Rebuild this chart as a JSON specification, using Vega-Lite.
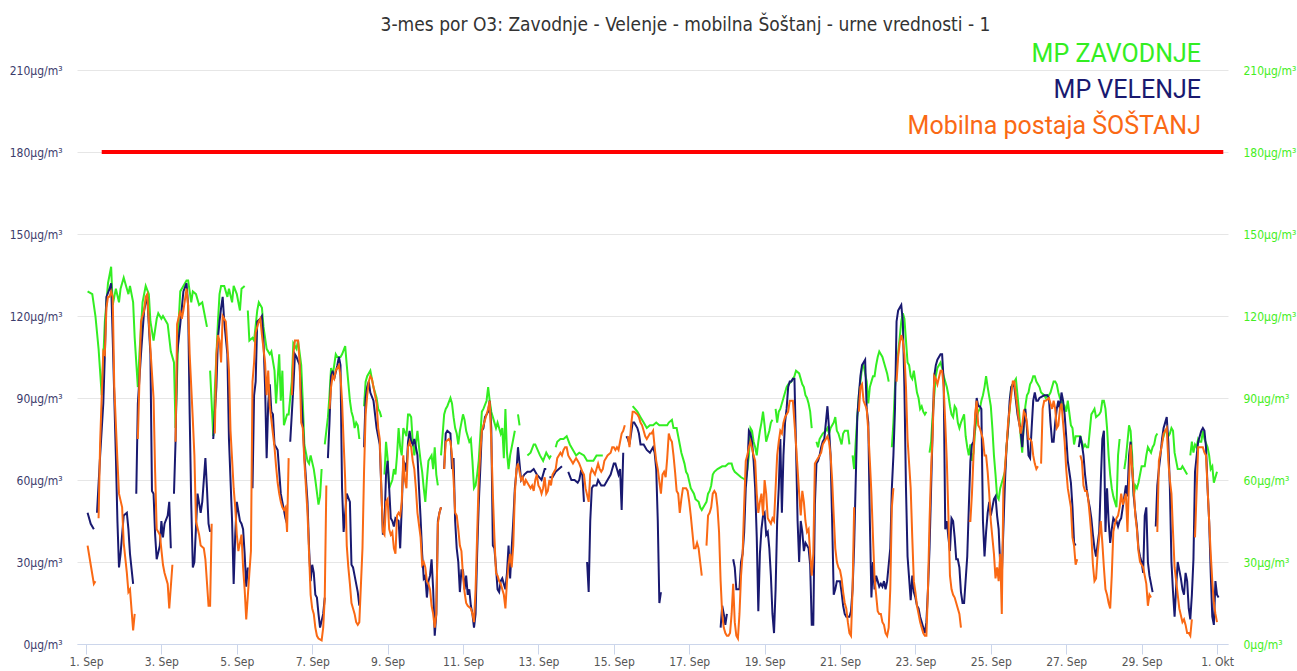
{
"$schema":"https://vega.github.io/schema/vega-lite/v6.json",
"width":1151,"height":574,
"autosize":{"type":"none"},
"padding":{"left":77,"top":70,"right":69,"bottom":27},
"background":"white",
"config":{"view":{"stroke":null}},
"title":{"text":"3-mes por O3: Zavodnje - Velenje - mobilna Šoštanj - urne vrednosti - 1","fontSize":19,"font":"DejaVu Sans Condensed","fontWeight":"normal","color":"#333333","anchor":"middle","frame":"group","dx":33,"offset":-9,"baseline":"alphabetic"},
"encoding":{
"x":{"field":"t","type":"temporal","scale":{"type":"utc","domain":[{"year":1900,"month":8,"date":31,"hours":18,"minutes":16,"utc":true},{"year":1900,"month":10,"date":1,"hours":7,"utc":true}]},"axis":{"values":[{"year":1900,"month":9,"date":1,"utc":true},{"year":1900,"month":9,"date":3,"utc":true},{"year":1900,"month":9,"date":5,"utc":true},{"year":1900,"month":9,"date":7,"utc":true},{"year":1900,"month":9,"date":9,"utc":true},{"year":1900,"month":9,"date":11,"utc":true},{"year":1900,"month":9,"date":13,"utc":true},{"year":1900,"month":9,"date":15,"utc":true},{"year":1900,"month":9,"date":17,"utc":true},{"year":1900,"month":9,"date":19,"utc":true},{"year":1900,"month":9,"date":21,"utc":true},{"year":1900,"month":9,"date":23,"utc":true},{"year":1900,"month":9,"date":25,"utc":true},{"year":1900,"month":9,"date":27,"utc":true},{"year":1900,"month":9,"date":29,"utc":true},{"year":1900,"month":10,"date":1,"utc":true}],"labelExpr":"replace(utcFormat(datum.value,'%-d. %b'),'Oct','Okt')","domainColor":"#ccd6eb","tickColor":"#ccd6eb","tickSize":10,"labelColor":"#555555","labelFontSize":12,"labelFont":"DejaVu Sans Condensed","labelPadding":2,"grid":false,"title":null,"labelOverlap":false,"labelFlush":false}},
"y":{"field":"v","type":"quantitative","scale":{"domain":[0,210]},"axis":null}
},
"layer":[
{"data":{"format":{"parse":{"t":"utc:'%m-%d %H'"}},"values":[
{"t":"09-01 01","v":129},{"t":"09-01 04","v":128},{"t":"09-01 06","v":120},{"t":"09-01 08","v":108},{"t":"09-01 10","v":91},{"t":"09-01 12","v":118},{"t":"09-01 14","v":132},{"t":"09-01 15","v":135},{"t":"09-01 16","v":138},{"t":"09-01 17","v":124},{"t":"09-01 19","v":130},{"t":"09-01 21","v":125},{"t":"09-01 22","v":130},
{"t":"09-02 00","v":134},{"t":"09-02 02","v":130},{"t":"09-02 03","v":128},{"t":"09-02 04","v":131},{"t":"09-02 06","v":125},{"t":"09-02 07","v":112},{"t":"09-02 09","v":94},{"t":"09-02 10","v":106},{"t":"09-02 12","v":125},{"t":"09-02 14","v":131},{"t":"09-02 16","v":128},{"t":"09-02 17","v":118},{"t":"09-02 19","v":111},{"t":"09-02 21","v":119},{"t":"09-02 22","v":121},
{"t":"09-03 00","v":119},{"t":"09-03 01","v":120},{"t":"09-03 03","v":118},{"t":"09-03 04","v":117},{"t":"09-03 06","v":107},{"t":"09-03 08","v":103},{"t":"09-03 09","v":79},{"t":"09-03 11","v":118},{"t":"09-03 12","v":129},{"t":"09-03 14","v":131},{"t":"09-03 16","v":133},{"t":"09-03 17","v":133},{"t":"09-03 19","v":125},{"t":"09-03 20","v":129},{"t":"09-03 22","v":128},
{"t":"09-04 00","v":124},{"t":"09-04 02","v":125},{"t":"09-04 03","v":122},{"t":"09-04 05","v":116},{"t":"09-04 06","v":null},{"t":"09-04 07","v":100},{"t":"09-04 09","v":76},{"t":"09-04 10","v":93},{"t":"09-04 12","v":118},{"t":"09-04 13","v":128},{"t":"09-04 14","v":131},{"t":"09-04 16","v":131},{"t":"09-04 18","v":127},{"t":"09-04 19","v":130},{"t":"09-04 21","v":125},{"t":"09-04 22","v":131},
{"t":"09-05 00","v":128},{"t":"09-05 02","v":122},{"t":"09-05 03","v":130},{"t":"09-05 05","v":131},{"t":"09-05 06","v":null},{"t":"09-05 07","v":122},{"t":"09-05 08","v":111},{"t":"09-05 10","v":112},{"t":"09-05 11","v":111},{"t":"09-05 13","v":122},{"t":"09-05 14","v":125},{"t":"09-05 16","v":123},{"t":"09-05 17","v":116},{"t":"09-05 19","v":108},{"t":"09-05 21","v":106},{"t":"09-05 22","v":107},
{"t":"09-06 00","v":100},{"t":"09-06 01","v":88},{"t":"09-06 03","v":106},{"t":"09-06 04","v":89},{"t":"09-06 05","v":100},{"t":"09-06 06","v":80},{"t":"09-06 08","v":84},{"t":"09-06 09","v":84},{"t":"09-06 11","v":96},{"t":"09-06 12","v":110},{"t":"09-06 14","v":108},{"t":"09-06 15","v":111},{"t":"09-06 17","v":102},{"t":"09-06 18","v":89},{"t":"09-06 19","v":73},{"t":"09-06 21","v":67},{"t":"09-06 22","v":66},{"t":"09-06 23","v":69},
{"t":"09-07 01","v":64},{"t":"09-07 02","v":60},{"t":"09-07 04","v":51},{"t":"09-07 05","v":54},{"t":"09-07 06","v":64},{"t":"09-07 07","v":null},{"t":"09-07 08","v":73},{"t":"09-07 10","v":83},{"t":"09-07 11","v":91},{"t":"09-07 12","v":101},{"t":"09-07 13","v":98},{"t":"09-07 15","v":106},{"t":"09-07 16","v":105},{"t":"09-07 18","v":105},{"t":"09-07 19","v":106},{"t":"09-07 21","v":109},{"t":"09-07 22","v":102},
{"t":"09-08 00","v":89},{"t":"09-08 01","v":85},{"t":"09-08 02","v":83},{"t":"09-08 03","v":79},{"t":"09-08 04","v":81},{"t":"09-08 05","v":80},{"t":"09-08 06","v":75},{"t":"09-08 07","v":null},{"t":"09-08 09","v":87},{"t":"09-08 10","v":96},{"t":"09-08 11","v":98},{"t":"09-08 13","v":100},{"t":"09-08 14","v":97},{"t":"09-08 15","v":94},{"t":"09-08 17","v":90},{"t":"09-08 18","v":86},{"t":"09-08 19","v":85},{"t":"09-08 20","v":83},{"t":"09-08 21","v":null},{"t":"09-08 22","v":62},{"t":"09-08 23","v":74},
{"t":"09-09 00","v":68},{"t":"09-09 01","v":57},{"t":"09-09 03","v":60},{"t":"09-09 04","v":64},{"t":"09-09 05","v":62},{"t":"09-09 06","v":69},{"t":"09-09 07","v":79},{"t":"09-09 08","v":72},{"t":"09-09 09","v":69},{"t":"09-09 10","v":79},{"t":"09-09 12","v":76},{"t":"09-09 13","v":84},{"t":"09-09 14","v":84},{"t":"09-09 15","v":83},{"t":"09-09 16","v":74},{"t":"09-09 17","v":69},{"t":"09-09 19","v":78},{"t":"09-09 20","v":72},{"t":"09-09 21","v":67},{"t":"09-09 22","v":63},{"t":"09-09 23","v":57},
{"t":"09-10 00","v":52},{"t":"09-10 01","v":60},{"t":"09-10 02","v":67},{"t":"09-10 04","v":69},{"t":"09-10 05","v":64},{"t":"09-10 06","v":72},{"t":"09-10 07","v":62},{"t":"09-10 08","v":58},{"t":"09-10 09","v":null},{"t":"09-10 10","v":69},{"t":"09-10 12","v":84},{"t":"09-10 13","v":86},{"t":"09-10 14","v":87},{"t":"09-10 16","v":90},{"t":"09-10 17","v":88},{"t":"09-10 18","v":83},{"t":"09-10 19","v":79},{"t":"09-10 20","v":77},{"t":"09-10 21","v":73},{"t":"09-10 22","v":78},{"t":"09-10 23","v":81},
{"t":"09-11 00","v":84},{"t":"09-11 01","v":82},{"t":"09-11 02","v":78},{"t":"09-11 04","v":74},{"t":"09-11 05","v":75},{"t":"09-11 06","v":67},{"t":"09-11 07","v":57},{"t":"09-11 08","v":58},{"t":"09-11 09","v":62},{"t":"09-11 10","v":67},{"t":"09-11 12","v":85},{"t":"09-11 13","v":86},{"t":"09-11 15","v":89},{"t":"09-11 16","v":94},{"t":"09-11 17","v":89},{"t":"09-11 18","v":85},{"t":"09-11 19","v":83},{"t":"09-11 20","v":81},{"t":"09-11 21","v":79},{"t":"09-11 22","v":81},
{"t":"09-12 00","v":77},{"t":"09-12 01","v":79},{"t":"09-12 02","v":68},{"t":"09-12 03","v":86},{"t":"09-12 04","v":70},{"t":"09-12 05","v":64},{"t":"09-12 06","v":69},{"t":"09-12 07","v":72},{"t":"09-12 09","v":78},{"t":"09-12 10","v":null},{"t":"09-12 11","v":84},{"t":"09-12 12","v":80},{"t":"09-12 13","v":null},{"t":"09-12 17","v":69},{"t":"09-12 19","v":70},{"t":"09-12 21","v":73},{"t":"09-12 22","v":73},
{"t":"09-13 01","v":69},{"t":"09-13 03","v":67},{"t":"09-13 05","v":70},{"t":"09-13 07","v":68},{"t":"09-13 08","v":69},{"t":"09-13 09","v":null},{"t":"09-13 11","v":72},{"t":"09-13 12","v":74},{"t":"09-13 14","v":75},{"t":"09-13 16","v":75},{"t":"09-13 18","v":76},{"t":"09-13 20","v":73},{"t":"09-13 22","v":71},
{"t":"09-14 00","v":69},{"t":"09-14 02","v":70},{"t":"09-14 05","v":69},{"t":"09-14 07","v":67},{"t":"09-14 09","v":67},{"t":"09-14 11","v":67},{"t":"09-14 13","v":69},{"t":"09-14 15","v":69},{"t":"09-14 17","v":69},{"t":"09-14 18","v":null},
{"t":"09-15 12","v":87},{"t":"09-15 15","v":85},{"t":"09-15 17","v":83},{"t":"09-15 19","v":81},{"t":"09-15 21","v":79},{"t":"09-15 23","v":80},
{"t":"09-16 01","v":80},{"t":"09-16 03","v":81},{"t":"09-16 05","v":80},{"t":"09-16 07","v":80},{"t":"09-16 10","v":80},{"t":"09-16 11","v":81},{"t":"09-16 13","v":82},{"t":"09-16 14","v":79},{"t":"09-16 16","v":79},{"t":"09-16 17","v":76},{"t":"09-16 18","v":73},{"t":"09-16 19","v":70},{"t":"09-16 20","v":68},{"t":"09-16 21","v":66},{"t":"09-16 22","v":63},{"t":"09-16 23","v":62},
{"t":"09-17 01","v":57},{"t":"09-17 03","v":55},{"t":"09-17 04","v":53},{"t":"09-17 06","v":52},{"t":"09-17 07","v":50},{"t":"09-17 08","v":49},{"t":"09-17 10","v":51},{"t":"09-17 11","v":52},{"t":"09-17 12","v":55},{"t":"09-17 13","v":56},{"t":"09-17 14","v":58},{"t":"09-17 15","v":62},{"t":"09-17 16","v":63},{"t":"09-17 18","v":64},{"t":"09-17 21","v":65},{"t":"09-17 23","v":65},
{"t":"09-18 01","v":66},{"t":"09-18 03","v":66},{"t":"09-18 04","v":64},{"t":"09-18 05","v":63},{"t":"09-18 07","v":62},{"t":"09-18 09","v":61},{"t":"09-18 12","v":60},{"t":"09-18 13","v":64},{"t":"09-18 14","v":69},{"t":"09-18 15","v":79},{"t":"09-18 16","v":78},{"t":"09-18 17","v":74},{"t":"09-18 18","v":72},{"t":"09-18 19","v":69},{"t":"09-18 20","v":74},{"t":"09-18 21","v":78},{"t":"09-18 22","v":81},{"t":"09-18 23","v":85},
{"t":"09-19 00","v":80},{"t":"09-19 01","v":74},{"t":"09-19 02","v":76},{"t":"09-19 03","v":78},{"t":"09-19 04","v":81},{"t":"09-19 05","v":82},{"t":"09-19 06","v":null},{"t":"09-19 07","v":86},{"t":"09-19 08","v":81},{"t":"09-19 09","v":85},{"t":"09-19 10","v":86},{"t":"09-19 12","v":90},{"t":"09-19 14","v":94},{"t":"09-19 15","v":95},{"t":"09-19 17","v":96},{"t":"09-19 19","v":98},{"t":"09-19 20","v":100},{"t":"09-19 22","v":99},{"t":"09-19 23","v":97},
{"t":"09-20 00","v":95},{"t":"09-20 01","v":94},{"t":"09-20 02","v":91},{"t":"09-20 03","v":90},{"t":"09-20 04","v":88},{"t":"09-20 05","v":85},{"t":"09-20 06","v":79},{"t":"09-20 07","v":null},{"t":"09-20 09","v":74},{"t":"09-20 10","v":72},{"t":"09-20 11","v":75},{"t":"09-20 13","v":77},{"t":"09-20 15","v":78},{"t":"09-20 16","v":79},{"t":"09-20 17","v":77},{"t":"09-20 18","v":79},{"t":"09-20 19","v":80},{"t":"09-20 20","v":81},{"t":"09-20 21","v":83},{"t":"09-20 22","v":78},{"t":"09-20 23","v":77},
{"t":"09-21 00","v":75},{"t":"09-21 01","v":73},{"t":"09-21 02","v":77},{"t":"09-21 03","v":78},{"t":"09-21 05","v":78},{"t":"09-21 06","v":73},{"t":"09-21 07","v":null},{"t":"09-21 08","v":69},{"t":"09-21 09","v":64},{"t":"09-21 10","v":74},{"t":"09-21 11","v":83},{"t":"09-21 12","v":91},{"t":"09-21 13","v":96},{"t":"09-21 14","v":101},{"t":"09-21 15","v":102},{"t":"09-21 17","v":96},{"t":"09-21 18","v":88},{"t":"09-21 19","v":94},{"t":"09-21 20","v":96},{"t":"09-21 21","v":98},{"t":"09-21 22","v":98},{"t":"09-21 23","v":102},
{"t":"09-22 00","v":105},{"t":"09-22 01","v":107},{"t":"09-22 02","v":106},{"t":"09-22 03","v":105},{"t":"09-22 04","v":103},{"t":"09-22 05","v":101},{"t":"09-22 06","v":99},{"t":"09-22 07","v":96},{"t":"09-22 08","v":null},{"t":"09-22 09","v":72},{"t":"09-22 10","v":81},{"t":"09-22 11","v":94},{"t":"09-22 12","v":101},{"t":"09-22 14","v":112},{"t":"09-22 15","v":118},{"t":"09-22 16","v":121},{"t":"09-22 17","v":119},{"t":"09-22 18","v":111},{"t":"09-22 19","v":103},{"t":"09-22 20","v":102},{"t":"09-22 21","v":98},{"t":"09-22 22","v":97},{"t":"09-22 23","v":100},
{"t":"09-23 00","v":96},{"t":"09-23 01","v":92},{"t":"09-23 02","v":90},{"t":"09-23 03","v":86},{"t":"09-23 04","v":87},{"t":"09-23 05","v":85},{"t":"09-23 06","v":84},{"t":"09-23 07","v":85},{"t":"09-23 08","v":null},{"t":"09-23 09","v":70},{"t":"09-23 10","v":74},{"t":"09-23 11","v":84},{"t":"09-23 12","v":91},{"t":"09-23 13","v":98},{"t":"09-23 14","v":101},{"t":"09-23 16","v":103},{"t":"09-23 17","v":101},{"t":"09-23 18","v":98},{"t":"09-23 19","v":96},{"t":"09-23 20","v":94},{"t":"09-23 21","v":91},{"t":"09-23 22","v":87},{"t":"09-23 23","v":84},
{"t":"09-24 00","v":83},{"t":"09-24 01","v":87},{"t":"09-24 02","v":86},{"t":"09-24 03","v":81},{"t":"09-24 04","v":79},{"t":"09-24 05","v":81},{"t":"09-24 07","v":84},{"t":"09-24 08","v":76},{"t":"09-24 09","v":72},{"t":"09-24 10","v":69},{"t":"09-24 11","v":73},{"t":"09-24 12","v":67},{"t":"09-24 13","v":70},{"t":"09-24 14","v":78},{"t":"09-24 15","v":83},{"t":"09-24 16","v":85},{"t":"09-24 17","v":86},{"t":"09-24 18","v":89},{"t":"09-24 19","v":91},{"t":"09-24 20","v":94},{"t":"09-24 21","v":98},{"t":"09-24 22","v":94},
{"t":"09-25 00","v":87},{"t":"09-25 01","v":79},{"t":"09-25 02","v":69},{"t":"09-25 03","v":62},{"t":"09-25 04","v":54},{"t":"09-25 05","v":53},{"t":"09-25 06","v":57},{"t":"09-25 07","v":59},{"t":"09-25 08","v":61},{"t":"09-25 09","v":63},{"t":"09-25 10","v":72},{"t":"09-25 11","v":79},{"t":"09-25 12","v":86},{"t":"09-25 13","v":94},{"t":"09-25 14","v":95},{"t":"09-25 15","v":96},{"t":"09-25 16","v":97},{"t":"09-25 18","v":85},{"t":"09-25 19","v":76},{"t":"09-25 20","v":70},{"t":"09-25 21","v":81},{"t":"09-25 22","v":87},{"t":"09-25 23","v":91},
{"t":"09-26 00","v":92},{"t":"09-26 01","v":95},{"t":"09-26 02","v":96},{"t":"09-26 03","v":98},{"t":"09-26 04","v":98},{"t":"09-26 05","v":96},{"t":"09-26 06","v":95},{"t":"09-26 07","v":94},{"t":"09-26 08","v":92},{"t":"09-26 10","v":91},{"t":"09-26 11","v":90},{"t":"09-26 12","v":91},{"t":"09-26 13","v":91},{"t":"09-26 14","v":92},{"t":"09-26 15","v":94},{"t":"09-26 16","v":96},{"t":"09-26 17","v":96},{"t":"09-26 18","v":95},{"t":"09-26 19","v":92},{"t":"09-26 20","v":90},{"t":"09-26 21","v":89},{"t":"09-26 22","v":86},{"t":"09-26 23","v":87},
{"t":"09-27 00","v":85},{"t":"09-27 01","v":89},{"t":"09-27 03","v":80},{"t":"09-27 04","v":79},{"t":"09-27 05","v":73},{"t":"09-27 06","v":76},{"t":"09-27 07","v":76},{"t":"09-27 08","v":76},{"t":"09-27 09","v":76},{"t":"09-27 10","v":74},{"t":"09-27 11","v":72},{"t":"09-27 12","v":73},{"t":"09-27 13","v":72},{"t":"09-27 14","v":72},{"t":"09-27 15","v":78},{"t":"09-27 16","v":84},{"t":"09-27 17","v":85},{"t":"09-27 18","v":86},{"t":"09-27 19","v":83},{"t":"09-27 21","v":84},{"t":"09-27 22","v":85},{"t":"09-27 23","v":89},
{"t":"09-28 00","v":89},{"t":"09-28 01","v":86},{"t":"09-28 02","v":79},{"t":"09-28 03","v":69},{"t":"09-28 04","v":62},{"t":"09-28 05","v":57},{"t":"09-28 06","v":54},{"t":"09-28 07","v":52},{"t":"09-28 08","v":50},{"t":"09-28 09","v":69},{"t":"09-28 10","v":75},{"t":"09-28 11","v":null},{"t":"09-28 13","v":64},{"t":"09-28 14","v":68},{"t":"09-28 15","v":74},{"t":"09-28 16","v":80},{"t":"09-28 17","v":78},{"t":"09-28 18","v":69},{"t":"09-28 19","v":54},{"t":"09-28 20","v":58},{"t":"09-28 21","v":57},{"t":"09-28 22","v":59},
{"t":"09-29 00","v":65},{"t":"09-29 02","v":65},{"t":"09-29 03","v":69},{"t":"09-29 04","v":72},{"t":"09-29 06","v":70},{"t":"09-29 07","v":72},{"t":"09-29 08","v":73},{"t":"09-29 09","v":76},{"t":"09-29 10","v":77},{"t":"09-29 11","v":null},{"t":"09-29 13","v":74},{"t":"09-29 14","v":76},{"t":"09-29 15","v":78},{"t":"09-29 16","v":78},{"t":"09-29 17","v":76},{"t":"09-29 18","v":77},{"t":"09-29 19","v":79},{"t":"09-29 20","v":78},{"t":"09-29 21","v":70},{"t":"09-29 22","v":67},{"t":"09-29 23","v":64},
{"t":"09-30 01","v":64},{"t":"09-30 02","v":65},{"t":"09-30 03","v":64},{"t":"09-30 04","v":63},{"t":"09-30 05","v":62},{"t":"09-30 06","v":null},{"t":"09-30 07","v":69},{"t":"09-30 08","v":74},{"t":"09-30 09","v":70},{"t":"09-30 10","v":73},{"t":"09-30 11","v":72},{"t":"09-30 12","v":75},{"t":"09-30 13","v":74},{"t":"09-30 14","v":74},{"t":"09-30 15","v":78},{"t":"09-30 16","v":75},{"t":"09-30 18","v":72},{"t":"09-30 19","v":69},{"t":"09-30 20","v":64},{"t":"09-30 21","v":65},{"t":"09-30 22","v":59},{"t":"09-30 23","v":61},{"t":"10-01 00","v":63}
]},
"mark":{"type":"line","strokeWidth":2,"invalid":"break-paths-filter-domains"},
"encoding":{
"y":{"field":"v","type":"quantitative","scale":{"domain":[0,210]},"axis":{"orient":"left","values":[0,30,60,90,120,150,180,210],"labelExpr":"datum.value + 'µg/m³'","grid":true,"gridColor":"#e6e6e6","domain":false,"ticks":false,"labelPadding":15,"labelColor":"#3c3c6c","labelFontSize":12,"labelFont":"DejaVu Sans Condensed","title":null}},
"color":{"datum":"MP ZAVODNJE","type":"nominal","scale":{"domain":["MP ZAVODNJE","MP VELENJE","Mobilna postaja ŠOŠTANJ"],"range":["#33ee22","#191970","#fa6914"]},"legend":{"title":null,"orient":"none","legendX":1099,"legendY":-29,"direction":"vertical","symbolSize":0,"symbolOpacity":0,"symbolStrokeWidth":0,"labelOffset":0,"labelAlign":"right","labelFontSize":25,"labelFont":"Roboto","labelLimit":0,"rowPadding":10,"padding":0,"labelBaseline":"middle","encode":{"labels":{"update":{"fill":{"signal":"scale('color', datum.value)"}}}}}}
}},
{"data":{"format":{"parse":{"t":"utc:'%m-%d %H'"}},"values":[
{"t":"09-01 01","v":48},{"t":"09-01 03","v":44},{"t":"09-01 05","v":42},{"t":"09-01 06","v":null},{"t":"09-01 07","v":48},{"t":"09-01 09","v":69},{"t":"09-01 11","v":88},{"t":"09-01 12","v":106},{"t":"09-01 13","v":127},{"t":"09-01 15","v":130},{"t":"09-01 16","v":132},{"t":"09-01 17","v":112},{"t":"09-01 19","v":69},{"t":"09-01 20","v":45},{"t":"09-01 21","v":28},{"t":"09-01 22","v":33},
{"t":"09-02 00","v":47},{"t":"09-02 02","v":48},{"t":"09-02 03","v":42},{"t":"09-02 04","v":33},{"t":"09-02 06","v":22},{"t":"09-02 07","v":null},{"t":"09-02 08","v":55},{"t":"09-02 09","v":88},{"t":"09-02 11","v":106},{"t":"09-02 13","v":122},{"t":"09-02 14","v":125},{"t":"09-02 15","v":127},{"t":"09-02 17","v":106},{"t":"09-02 18","v":56},{"t":"09-02 19","v":55},{"t":"09-02 20","v":40},{"t":"09-02 21","v":31},{"t":"09-02 23","v":36},
{"t":"09-03 00","v":45},{"t":"09-03 01","v":39},{"t":"09-03 02","v":44},{"t":"09-03 04","v":47},{"t":"09-03 05","v":52},{"t":"09-03 06","v":35},{"t":"09-03 07","v":null},{"t":"09-03 08","v":55},{"t":"09-03 09","v":74},{"t":"09-03 10","v":106},{"t":"09-03 12","v":117},{"t":"09-03 13","v":123},{"t":"09-03 14","v":129},{"t":"09-03 16","v":132},{"t":"09-03 17","v":124},{"t":"09-03 18","v":84},{"t":"09-03 19","v":51},{"t":"09-03 20","v":28},{"t":"09-03 21","v":30},{"t":"09-03 23","v":55},
{"t":"09-04 01","v":48},{"t":"09-04 02","v":52},{"t":"09-04 04","v":68},{"t":"09-04 05","v":57},{"t":"09-04 06","v":44},{"t":"09-04 07","v":41},{"t":"09-04 08","v":null},{"t":"09-04 09","v":75},{"t":"09-04 11","v":94},{"t":"09-04 12","v":112},{"t":"09-04 13","v":118},{"t":"09-04 14","v":123},{"t":"09-04 15","v":127},{"t":"09-04 16","v":118},{"t":"09-04 18","v":106},{"t":"09-04 19","v":75},{"t":"09-04 21","v":45},{"t":"09-04 22","v":22},{"t":"09-04 23","v":40},
{"t":"09-05 00","v":52},{"t":"09-05 02","v":45},{"t":"09-05 03","v":44},{"t":"09-05 04","v":42},{"t":"09-05 05","v":33},{"t":"09-05 06","v":21},{"t":"09-05 07","v":28},{"t":"09-05 08","v":null},{"t":"09-05 10","v":57},{"t":"09-05 11","v":91},{"t":"09-05 12","v":96},{"t":"09-05 13","v":118},{"t":"09-05 15","v":119},{"t":"09-05 16","v":120},{"t":"09-05 17","v":111},{"t":"09-05 18","v":94},{"t":"09-05 19","v":68},{"t":"09-05 20","v":88},{"t":"09-05 21","v":95},{"t":"09-05 22","v":85},{"t":"09-05 23","v":84},
{"t":"09-06 00","v":73},{"t":"09-06 02","v":71},{"t":"09-06 03","v":63},{"t":"09-06 04","v":55},{"t":"09-06 05","v":52},{"t":"09-06 07","v":46},{"t":"09-06 08","v":44},{"t":"09-06 09","v":null},{"t":"09-06 10","v":74},{"t":"09-06 12","v":94},{"t":"09-06 13","v":106},{"t":"09-06 14","v":105},{"t":"09-06 16","v":102},{"t":"09-06 17","v":91},{"t":"09-06 18","v":81},{"t":"09-06 19","v":69},{"t":"09-06 21","v":52},{"t":"09-06 22","v":35},{"t":"09-06 23","v":23},
{"t":"09-07 00","v":29},{"t":"09-07 01","v":26},{"t":"09-07 02","v":18},{"t":"09-07 03","v":17},{"t":"09-07 04","v":11},{"t":"09-07 05","v":6},{"t":"09-07 07","v":11},{"t":"09-07 08","v":17},{"t":"09-07 09","v":null},{"t":"09-07 10","v":68},{"t":"09-07 11","v":81},{"t":"09-07 12","v":98},{"t":"09-07 13","v":100},{"t":"09-07 14","v":97},{"t":"09-07 16","v":102},{"t":"09-07 17","v":105},{"t":"09-07 18","v":102},{"t":"09-07 19","v":57},{"t":"09-07 20","v":41},{"t":"09-07 21","v":48},{"t":"09-07 22","v":55},
{"t":"09-08 00","v":52},{"t":"09-08 01","v":29},{"t":"09-08 02","v":28},{"t":"09-08 03","v":25},{"t":"09-08 04","v":22},{"t":"09-08 05","v":19},{"t":"09-08 06","v":14},{"t":"09-08 07","v":null},{"t":"09-08 09","v":72},{"t":"09-08 10","v":90},{"t":"09-08 11","v":94},{"t":"09-08 12","v":96},{"t":"09-08 13","v":92},{"t":"09-08 15","v":89},{"t":"09-08 16","v":84},{"t":"09-08 17","v":79},{"t":"09-08 19","v":73},{"t":"09-08 20","v":57},{"t":"09-08 21","v":40},{"t":"09-08 22","v":44},{"t":"09-08 23","v":62},
{"t":"09-09 00","v":67},{"t":"09-09 01","v":57},{"t":"09-09 02","v":46},{"t":"09-09 03","v":45},{"t":"09-09 04","v":43},{"t":"09-09 05","v":46},{"t":"09-09 07","v":45},{"t":"09-09 08","v":35},{"t":"09-09 09","v":50},{"t":"09-09 10","v":67},{"t":"09-09 11","v":66},{"t":"09-09 12","v":63},{"t":"09-09 13","v":74},{"t":"09-09 14","v":78},{"t":"09-09 15","v":74},{"t":"09-09 16","v":73},{"t":"09-09 17","v":75},{"t":"09-09 19","v":69},{"t":"09-09 20","v":57},{"t":"09-09 21","v":46},{"t":"09-09 22","v":33},{"t":"09-09 23","v":24},
{"t":"09-10 00","v":25},{"t":"09-10 01","v":17},{"t":"09-10 02","v":23},{"t":"09-10 03","v":25},{"t":"09-10 04","v":31},{"t":"09-10 05","v":20},{"t":"09-10 06","v":3},{"t":"09-10 07","v":11},{"t":"09-10 08","v":45},{"t":"09-10 09","v":48},{"t":"09-10 10","v":50},{"t":"09-10 11","v":null},{"t":"09-10 12","v":64},{"t":"09-10 13","v":77},{"t":"09-10 14","v":78},{"t":"09-10 16","v":77},{"t":"09-10 17","v":64},{"t":"09-10 18","v":68},{"t":"09-10 19","v":45},{"t":"09-10 20","v":35},{"t":"09-10 21","v":30},{"t":"09-10 22","v":19},{"t":"09-10 23","v":27},
{"t":"09-11 00","v":27},{"t":"09-11 01","v":20},{"t":"09-11 02","v":25},{"t":"09-11 03","v":18},{"t":"09-11 04","v":20},{"t":"09-11 05","v":14},{"t":"09-11 06","v":11},{"t":"09-11 07","v":6},{"t":"09-11 08","v":11},{"t":"09-11 09","v":33},{"t":"09-11 10","v":51},{"t":"09-11 11","v":64},{"t":"09-11 12","v":78},{"t":"09-11 13","v":79},{"t":"09-11 14","v":83},{"t":"09-11 15","v":84},{"t":"09-11 16","v":85},{"t":"09-11 17","v":89},{"t":"09-11 18","v":79},{"t":"09-11 19","v":36},{"t":"09-11 20","v":35},{"t":"09-11 21","v":28},{"t":"09-11 22","v":20},{"t":"09-11 23","v":19},
{"t":"09-12 00","v":23},{"t":"09-12 01","v":24},{"t":"09-12 02","v":22},{"t":"09-12 03","v":20},{"t":"09-12 04","v":26},{"t":"09-12 05","v":36},{"t":"09-12 06","v":24},{"t":"09-12 07","v":35},{"t":"09-12 08","v":45},{"t":"09-12 09","v":57},{"t":"09-12 10","v":63},{"t":"09-12 11","v":72},{"t":"09-12 13","v":60},{"t":"09-12 15","v":62},{"t":"09-12 17","v":63},{"t":"09-12 19","v":63},{"t":"09-12 21","v":64},{"t":"09-12 23","v":62},
{"t":"09-13 02","v":60},{"t":"09-13 04","v":64},{"t":"09-13 05","v":64},{"t":"09-13 06","v":null},{"t":"09-13 07","v":61},{"t":"09-13 09","v":61},{"t":"09-13 11","v":63},{"t":"09-13 13","v":64},{"t":"09-13 15","v":65},{"t":"09-13 17","v":null},{"t":"09-13 19","v":63},{"t":"09-13 21","v":60},{"t":"09-13 23","v":60},
{"t":"09-14 01","v":59},{"t":"09-14 02","v":60},{"t":"09-14 03","v":63},{"t":"09-14 04","v":62},{"t":"09-14 05","v":52},{"t":"09-14 06","v":null},{"t":"09-14 07","v":30},{"t":"09-14 08","v":19},{"t":"09-14 09","v":45},{"t":"09-14 10","v":57},{"t":"09-14 11","v":58},{"t":"09-14 13","v":58},{"t":"09-14 14","v":60},{"t":"09-14 16","v":58},{"t":"09-14 18","v":58},{"t":"09-14 20","v":60},{"t":"09-14 22","v":62},{"t":"09-14 23","v":64},
{"t":"09-15 00","v":66},{"t":"09-15 01","v":66},{"t":"09-15 02","v":64},{"t":"09-15 03","v":62},{"t":"09-15 04","v":64},{"t":"09-15 05","v":49},{"t":"09-15 06","v":70},{"t":"09-15 07","v":null},{"t":"09-15 08","v":76},{"t":"09-15 09","v":75},{"t":"09-15 10","v":73},{"t":"09-15 11","v":77},{"t":"09-15 12","v":81},{"t":"09-15 13","v":81},{"t":"09-15 15","v":79},{"t":"09-15 16","v":77},{"t":"09-15 17","v":73},{"t":"09-15 19","v":73},{"t":"09-15 21","v":71},{"t":"09-15 23","v":70},
{"t":"09-16 01","v":72},{"t":"09-16 02","v":70},{"t":"09-16 03","v":64},{"t":"09-16 04","v":45},{"t":"09-16 05","v":15},{"t":"09-16 06","v":19},{"t":"09-16 07","v":null},
{"t":"09-17 20","v":6},{"t":"09-17 21","v":14},{"t":"09-17 22","v":11},{"t":"09-17 23","v":7},
{"t":"09-18 00","v":11},{"t":"09-18 01","v":null},{"t":"09-18 04","v":31},{"t":"09-18 05","v":28},{"t":"09-18 06","v":20},{"t":"09-18 08","v":20},{"t":"09-18 09","v":30},{"t":"09-18 10","v":33},{"t":"09-18 11","v":41},{"t":"09-18 12","v":57},{"t":"09-18 13","v":64},{"t":"09-18 14","v":78},{"t":"09-18 15","v":77},{"t":"09-18 16","v":74},{"t":"09-18 17","v":67},{"t":"09-18 18","v":57},{"t":"09-18 19","v":39},{"t":"09-18 20","v":12},{"t":"09-18 21","v":33},{"t":"09-18 22","v":42},{"t":"09-18 23","v":47},
{"t":"09-19 00","v":48},{"t":"09-19 01","v":40},{"t":"09-19 02","v":41},{"t":"09-19 03","v":35},{"t":"09-19 04","v":25},{"t":"09-19 05","v":11},{"t":"09-19 06","v":4},{"t":"09-19 07","v":20},{"t":"09-19 08","v":45},{"t":"09-19 09","v":57},{"t":"09-19 10","v":75},{"t":"09-19 11","v":48},{"t":"09-19 12","v":69},{"t":"09-19 13","v":81},{"t":"09-19 14","v":86},{"t":"09-19 15","v":94},{"t":"09-19 16","v":96},{"t":"09-19 17","v":96},{"t":"09-19 18","v":97},{"t":"09-19 19","v":97},{"t":"09-19 20","v":72},{"t":"09-19 21","v":45},{"t":"09-19 22","v":30},{"t":"09-19 23","v":45},
{"t":"09-20 00","v":41},{"t":"09-20 01","v":34},{"t":"09-20 02","v":37},{"t":"09-20 03","v":36},{"t":"09-20 04","v":35},{"t":"09-20 05","v":29},{"t":"09-20 06","v":7},{"t":"09-20 07","v":7},{"t":"09-20 08","v":51},{"t":"09-20 09","v":66},{"t":"09-20 10","v":67},{"t":"09-20 11","v":69},{"t":"09-20 12","v":72},{"t":"09-20 13","v":74},{"t":"09-20 14","v":75},{"t":"09-20 15","v":81},{"t":"09-20 16","v":87},{"t":"09-20 17","v":79},{"t":"09-20 18","v":69},{"t":"09-20 19","v":45},{"t":"09-20 20","v":18},{"t":"09-20 21","v":20},{"t":"09-20 22","v":23},{"t":"09-20 23","v":23},
{"t":"09-21 00","v":23},{"t":"09-21 01","v":19},{"t":"09-21 02","v":14},{"t":"09-21 03","v":11},{"t":"09-21 04","v":10},{"t":"09-21 05","v":10},{"t":"09-21 06","v":10},{"t":"09-21 07","v":12},{"t":"09-21 08","v":20},{"t":"09-21 09","v":36},{"t":"09-21 11","v":83},{"t":"09-21 12","v":91},{"t":"09-21 13","v":98},{"t":"09-21 14","v":102},{"t":"09-21 15","v":103},{"t":"09-21 16","v":104},{"t":"09-21 17","v":86},{"t":"09-21 18","v":81},{"t":"09-21 19","v":45},{"t":"09-21 20","v":17},{"t":"09-21 21","v":30},{"t":"09-21 22","v":20},{"t":"09-21 23","v":25},
{"t":"09-22 00","v":23},{"t":"09-22 01","v":21},{"t":"09-22 02","v":22},{"t":"09-22 03","v":21},{"t":"09-22 04","v":23},{"t":"09-22 05","v":20},{"t":"09-22 06","v":23},{"t":"09-22 08","v":35},{"t":"09-22 09","v":57},{"t":"09-22 10","v":69},{"t":"09-22 11","v":86},{"t":"09-22 12","v":118},{"t":"09-22 13","v":122},{"t":"09-22 14","v":123},{"t":"09-22 15","v":124},{"t":"09-22 16","v":118},{"t":"09-22 17","v":94},{"t":"09-22 18","v":57},{"t":"09-22 19","v":32},{"t":"09-22 21","v":16},{"t":"09-22 22","v":25},{"t":"09-22 23","v":19},
{"t":"09-23 00","v":17},{"t":"09-23 01","v":14},{"t":"09-23 02","v":13},{"t":"09-23 03","v":10},{"t":"09-23 04","v":8},{"t":"09-23 05","v":6},{"t":"09-23 06","v":4},{"t":"09-23 07","v":8},{"t":"09-23 08","v":20},{"t":"09-23 09","v":35},{"t":"09-23 10","v":57},{"t":"09-23 11","v":79},{"t":"09-23 12","v":98},{"t":"09-23 13","v":102},{"t":"09-23 14","v":104},{"t":"09-23 16","v":106},{"t":"09-23 17","v":106},{"t":"09-23 18","v":96},{"t":"09-23 19","v":42},{"t":"09-23 20","v":45},{"t":"09-23 21","v":39},{"t":"09-23 22","v":34},{"t":"09-23 23","v":46},
{"t":"09-24 00","v":45},{"t":"09-24 01","v":39},{"t":"09-24 02","v":31},{"t":"09-24 03","v":31},{"t":"09-24 04","v":28},{"t":"09-24 05","v":19},{"t":"09-24 06","v":15},{"t":"09-24 07","v":15},{"t":"09-24 09","v":32},{"t":"09-24 10","v":50},{"t":"09-24 11","v":67},{"t":"09-24 12","v":73},{"t":"09-24 13","v":74},{"t":"09-24 14","v":81},{"t":"09-24 15","v":90},{"t":"09-24 16","v":87},{"t":"09-24 17","v":87},{"t":"09-24 18","v":86},{"t":"09-24 19","v":45},{"t":"09-24 20","v":32},{"t":"09-24 21","v":41},{"t":"09-24 22","v":48},{"t":"09-24 23","v":52},
{"t":"09-25 00","v":47},{"t":"09-25 02","v":53},{"t":"09-25 03","v":54},{"t":"09-25 04","v":47},{"t":"09-25 05","v":42},{"t":"09-25 06","v":29},{"t":"09-25 07","v":25},{"t":"09-25 08","v":42},{"t":"09-25 09","v":59},{"t":"09-25 10","v":72},{"t":"09-25 11","v":79},{"t":"09-25 12","v":89},{"t":"09-25 13","v":94},{"t":"09-25 14","v":95},{"t":"09-25 15","v":94},{"t":"09-25 16","v":89},{"t":"09-25 17","v":84},{"t":"09-25 19","v":78},{"t":"09-25 20","v":72},{"t":"09-25 21","v":80},{"t":"09-25 22","v":86},{"t":"09-25 23","v":79},
{"t":"09-26 00","v":69},{"t":"09-26 01","v":68},{"t":"09-26 02","v":79},{"t":"09-26 03","v":89},{"t":"09-26 04","v":92},{"t":"09-26 05","v":89},{"t":"09-26 06","v":89},{"t":"09-26 07","v":90},{"t":"09-26 10","v":91},{"t":"09-26 12","v":91},{"t":"09-26 13","v":90},{"t":"09-26 14","v":81},{"t":"09-26 15","v":74},{"t":"09-26 16","v":74},{"t":"09-26 17","v":81},{"t":"09-26 18","v":86},{"t":"09-26 19","v":89},{"t":"09-26 20","v":86},{"t":"09-26 21","v":92},{"t":"09-26 22","v":89},{"t":"09-26 23","v":84},
{"t":"09-27 00","v":76},{"t":"09-27 01","v":67},{"t":"09-27 03","v":59},{"t":"09-27 04","v":50},{"t":"09-27 05","v":37},{"t":"09-27 06","v":36},{"t":"09-27 07","v":null},{"t":"09-27 08","v":72},{"t":"09-27 09","v":76},{"t":"09-27 10","v":73},{"t":"09-27 11","v":69},{"t":"09-27 12","v":62},{"t":"09-27 13","v":57},{"t":"09-27 14","v":53},{"t":"09-27 15","v":50},{"t":"09-27 16","v":46},{"t":"09-27 17","v":40},{"t":"09-27 18","v":35},{"t":"09-27 19","v":32},{"t":"09-27 21","v":41},{"t":"09-27 22","v":59},{"t":"09-27 23","v":75},
{"t":"09-28 00","v":78},{"t":"09-28 01","v":41},{"t":"09-28 02","v":57},{"t":"09-28 03","v":45},{"t":"09-28 04","v":37},{"t":"09-28 05","v":42},{"t":"09-28 06","v":46},{"t":"09-28 07","v":45},{"t":"09-28 08","v":45},{"t":"09-28 09","v":43},{"t":"09-28 10","v":45},{"t":"09-28 11","v":46},{"t":"09-28 12","v":50},{"t":"09-28 14","v":58},{"t":"09-28 15","v":54},{"t":"09-28 16","v":69},{"t":"09-28 17","v":74},{"t":"09-28 18","v":64},{"t":"09-28 19","v":54},{"t":"09-28 20","v":48},{"t":"09-28 21","v":43},{"t":"09-28 22","v":35},{"t":"09-28 23","v":32},
{"t":"09-29 00","v":30},{"t":"09-29 01","v":26},{"t":"09-29 02","v":47},{"t":"09-29 03","v":50},{"t":"09-29 04","v":30},{"t":"09-29 05","v":25},{"t":"09-29 07","v":19},{"t":"09-29 08","v":null},{"t":"09-29 09","v":43},{"t":"09-29 10","v":58},{"t":"09-29 11","v":64},{"t":"09-29 12","v":69},{"t":"09-29 13","v":75},{"t":"09-29 14","v":79},{"t":"09-29 15","v":81},{"t":"09-29 16","v":83},{"t":"09-29 17","v":74},{"t":"09-29 18","v":57},{"t":"09-29 19","v":30},{"t":"09-29 20","v":19},{"t":"09-29 21","v":10},{"t":"09-29 22","v":21},{"t":"09-29 23","v":30},
{"t":"09-30 01","v":24},{"t":"09-30 02","v":20},{"t":"09-30 03","v":18},{"t":"09-30 04","v":26},{"t":"09-30 05","v":23},{"t":"09-30 06","v":13},{"t":"09-30 07","v":9},{"t":"09-30 08","v":18},{"t":"09-30 09","v":31},{"t":"09-30 10","v":63},{"t":"09-30 12","v":74},{"t":"09-30 13","v":76},{"t":"09-30 14","v":78},{"t":"09-30 15","v":79},{"t":"09-30 16","v":78},{"t":"09-30 17","v":72},{"t":"09-30 18","v":57},{"t":"09-30 19","v":45},{"t":"09-30 20","v":26},{"t":"09-30 21","v":10},{"t":"09-30 22","v":7},{"t":"09-30 23","v":23},{"t":"10-01 00","v":18},{"t":"10-01 01","v":17}
]},
"mark":{"type":"line","strokeWidth":2,"invalid":"break-paths-filter-domains"},
"encoding":{
"y":{"field":"v","type":"quantitative","scale":{"domain":[0,210]},"axis":{"orient":"right","values":[0,30,60,90,120,150,180,210],"labelExpr":"datum.value + 'µg/m³'","grid":false,"domain":false,"ticks":false,"labelPadding":15,"labelColor":"#44ee22","labelFontSize":12,"labelFont":"DejaVu Sans Condensed","title":null}},
"color":{"datum":"MP VELENJE","type":"nominal"}
}},
{"data":{"format":{"parse":{"t":"utc:'%m-%d %H'"}},"values":[
{"t":"09-01 01","v":36},{"t":"09-01 03","v":29},{"t":"09-01 05","v":22},{"t":"09-01 06","v":23},{"t":"09-01 07","v":null},{"t":"09-01 08","v":46},{"t":"09-01 09","v":74},{"t":"09-01 11","v":107},{"t":"09-01 12","v":106},{"t":"09-01 13","v":123},{"t":"09-01 14","v":127},{"t":"09-01 15","v":127},{"t":"09-01 16","v":129},{"t":"09-01 17","v":127},{"t":"09-01 18","v":94},{"t":"09-01 20","v":67},{"t":"09-01 21","v":55},{"t":"09-01 23","v":50},
{"t":"09-02 00","v":37},{"t":"09-02 02","v":26},{"t":"09-02 03","v":19},{"t":"09-02 04","v":20},{"t":"09-02 06","v":5},{"t":"09-02 07","v":11},{"t":"09-02 08","v":null},{"t":"09-02 09","v":75},{"t":"09-02 10","v":96},{"t":"09-02 11","v":118},{"t":"09-02 13","v":122},{"t":"09-02 14","v":127},{"t":"09-02 15","v":128},{"t":"09-02 17","v":108},{"t":"09-02 19","v":90},{"t":"09-02 20","v":63},{"t":"09-02 21","v":42},{"t":"09-02 23","v":40},
{"t":"09-03 01","v":29},{"t":"09-03 02","v":26},{"t":"09-03 04","v":22},{"t":"09-03 05","v":13},{"t":"09-03 07","v":29},{"t":"09-03 08","v":null},{"t":"09-03 09","v":74},{"t":"09-03 10","v":117},{"t":"09-03 12","v":122},{"t":"09-03 13","v":119},{"t":"09-03 14","v":122},{"t":"09-03 16","v":130},{"t":"09-03 17","v":124},{"t":"09-03 18","v":106},{"t":"09-03 20","v":82},{"t":"09-03 21","v":69},{"t":"09-03 22","v":45},
{"t":"09-04 00","v":40},{"t":"09-04 01","v":36},{"t":"09-04 03","v":35},{"t":"09-04 04","v":31},{"t":"09-04 06","v":14},{"t":"09-04 07","v":14},{"t":"09-04 08","v":44},{"t":"09-04 09","v":null},{"t":"09-04 10","v":77},{"t":"09-04 11","v":106},{"t":"09-04 12","v":113},{"t":"09-04 13","v":111},{"t":"09-04 14","v":103},{"t":"09-04 15","v":120},{"t":"09-04 17","v":118},{"t":"09-04 19","v":100},{"t":"09-04 20","v":78},{"t":"09-04 22","v":57},{"t":"09-04 23","v":50},
{"t":"09-05 00","v":40},{"t":"09-05 01","v":34},{"t":"09-05 03","v":40},{"t":"09-05 04","v":28},{"t":"09-05 05","v":20},{"t":"09-05 06","v":9},{"t":"09-05 08","v":26},{"t":"09-05 09","v":34},{"t":"09-05 10","v":96},{"t":"09-05 11","v":103},{"t":"09-05 12","v":114},{"t":"09-05 14","v":118},{"t":"09-05 15","v":119},{"t":"09-05 16","v":113},{"t":"09-05 18","v":103},{"t":"09-05 19","v":91},{"t":"09-05 20","v":100},{"t":"09-05 21","v":87},{"t":"09-05 22","v":82},{"t":"09-05 23","v":77},
{"t":"09-06 00","v":72},{"t":"09-06 01","v":65},{"t":"09-06 02","v":59},{"t":"09-06 03","v":55},{"t":"09-06 04","v":52},{"t":"09-06 05","v":50},{"t":"09-06 06","v":49},{"t":"09-06 07","v":50},{"t":"09-06 08","v":41},{"t":"09-06 09","v":68},{"t":"09-06 10","v":null},{"t":"09-06 11","v":91},{"t":"09-06 12","v":106},{"t":"09-06 13","v":111},{"t":"09-06 15","v":111},{"t":"09-06 16","v":103},{"t":"09-06 17","v":81},{"t":"09-06 18","v":79},{"t":"09-06 19","v":67},{"t":"09-06 21","v":48},{"t":"09-06 22","v":33},{"t":"09-06 23","v":18},
{"t":"09-07 00","v":13},{"t":"09-07 01","v":11},{"t":"09-07 02","v":6},{"t":"09-07 03","v":3},{"t":"09-07 04","v":2},{"t":"09-07 06","v":1.3},{"t":"09-07 07","v":6},{"t":"09-07 08","v":17},{"t":"09-07 09","v":58},{"t":"09-07 10","v":null},{"t":"09-07 11","v":86},{"t":"09-07 12","v":94},{"t":"09-07 13","v":98},{"t":"09-07 14","v":97},{"t":"09-07 15","v":100},{"t":"09-07 17","v":102},{"t":"09-07 18","v":98},{"t":"09-07 19","v":89},{"t":"09-07 20","v":74},{"t":"09-07 21","v":60},{"t":"09-07 22","v":36},{"t":"09-07 23","v":28},
{"t":"09-08 00","v":22},{"t":"09-08 01","v":15},{"t":"09-08 02","v":13},{"t":"09-08 03","v":11},{"t":"09-08 04","v":8},{"t":"09-08 05","v":7},{"t":"09-08 06","v":8},{"t":"09-08 08","v":35},{"t":"09-08 09","v":63},{"t":"09-08 10","v":84},{"t":"09-08 11","v":91},{"t":"09-08 12","v":96},{"t":"09-08 13","v":98},{"t":"09-08 14","v":97},{"t":"09-08 16","v":91},{"t":"09-08 17","v":88},{"t":"09-08 18","v":79},{"t":"09-08 19","v":75},{"t":"09-08 20","v":57},{"t":"09-08 21","v":41},{"t":"09-08 22","v":40},{"t":"09-08 23","v":52},
{"t":"09-09 00","v":53},{"t":"09-09 01","v":42},{"t":"09-09 02","v":40},{"t":"09-09 03","v":41},{"t":"09-09 04","v":35},{"t":"09-09 05","v":33},{"t":"09-09 06","v":47},{"t":"09-09 07","v":48},{"t":"09-09 08","v":47},{"t":"09-09 09","v":52},{"t":"09-09 10","v":69},{"t":"09-09 11","v":60},{"t":"09-09 12","v":57},{"t":"09-09 13","v":72},{"t":"09-09 14","v":74},{"t":"09-09 15","v":72},{"t":"09-09 16","v":67},{"t":"09-09 17","v":64},{"t":"09-09 18","v":57},{"t":"09-09 19","v":48},{"t":"09-09 21","v":39},{"t":"09-09 22","v":29},{"t":"09-09 23","v":30},
{"t":"09-10 00","v":28},{"t":"09-10 01","v":23},{"t":"09-10 02","v":22},{"t":"09-10 03","v":20},{"t":"09-10 04","v":14},{"t":"09-10 05","v":11},{"t":"09-10 06","v":6},{"t":"09-10 07","v":11},{"t":"09-10 08","v":44},{"t":"09-10 09","v":48},{"t":"09-10 10","v":50},{"t":"09-10 11","v":null},{"t":"09-10 12","v":64},{"t":"09-10 13","v":74},{"t":"09-10 15","v":75},{"t":"09-10 16","v":74},{"t":"09-10 17","v":69},{"t":"09-10 18","v":60},{"t":"09-10 19","v":48},{"t":"09-10 20","v":47},{"t":"09-10 21","v":42},{"t":"09-10 22","v":36},{"t":"09-10 23","v":34},
{"t":"09-11 00","v":25},{"t":"09-11 01","v":19},{"t":"09-11 02","v":15},{"t":"09-11 03","v":14},{"t":"09-11 05","v":13},{"t":"09-11 06","v":11},{"t":"09-11 07","v":8},{"t":"09-11 08","v":20},{"t":"09-11 09","v":40},{"t":"09-11 10","v":60},{"t":"09-11 11","v":70},{"t":"09-11 12","v":78},{"t":"09-11 14","v":82},{"t":"09-11 16","v":86},{"t":"09-11 17","v":89},{"t":"09-11 18","v":74},{"t":"09-11 19","v":55},{"t":"09-11 20","v":39},{"t":"09-11 21","v":26},{"t":"09-11 22","v":25},{"t":"09-11 23","v":23},
{"t":"09-12 00","v":22},{"t":"09-12 02","v":18},{"t":"09-12 03","v":13},{"t":"09-12 04","v":23},{"t":"09-12 05","v":29},{"t":"09-12 06","v":33},{"t":"09-12 07","v":28},{"t":"09-12 08","v":36},{"t":"09-12 09","v":55},{"t":"09-12 10","v":64},{"t":"09-12 11","v":66},{"t":"09-12 12","v":63},{"t":"09-12 13","v":60},{"t":"09-12 14","v":61},{"t":"09-12 15","v":58},{"t":"09-12 16","v":60},{"t":"09-12 18","v":58},{"t":"09-12 19","v":57},{"t":"09-12 20","v":58},{"t":"09-12 21","v":56},{"t":"09-12 22","v":60},{"t":"09-12 23","v":62},
{"t":"09-13 00","v":58},{"t":"09-13 01","v":57},{"t":"09-13 02","v":55},{"t":"09-13 03","v":57},{"t":"09-13 04","v":61},{"t":"09-13 05","v":55},{"t":"09-13 06","v":56},{"t":"09-13 07","v":60},{"t":"09-13 08","v":58},{"t":"09-13 09","v":62},{"t":"09-13 11","v":64},{"t":"09-13 12","v":68},{"t":"09-13 13","v":69},{"t":"09-13 14","v":70},{"t":"09-13 15","v":69},{"t":"09-13 16","v":71},{"t":"09-13 17","v":72},{"t":"09-13 18","v":72},{"t":"09-13 19","v":69},{"t":"09-13 20","v":68},{"t":"09-13 21","v":67},{"t":"09-13 22","v":66},{"t":"09-13 23","v":67},
{"t":"09-14 00","v":68},{"t":"09-14 01","v":67},{"t":"09-14 02","v":66},{"t":"09-14 04","v":63},{"t":"09-14 05","v":62},{"t":"09-14 06","v":57},{"t":"09-14 08","v":52},{"t":"09-14 09","v":62},{"t":"09-14 10","v":64},{"t":"09-14 11","v":63},{"t":"09-14 12","v":62},{"t":"09-14 13","v":64},{"t":"09-14 14","v":66},{"t":"09-14 15","v":64},{"t":"09-14 16","v":63},{"t":"09-14 17","v":64},{"t":"09-14 18","v":67},{"t":"09-14 19","v":68},{"t":"09-14 20","v":69},{"t":"09-14 22","v":70},{"t":"09-14 23","v":72},
{"t":"09-15 00","v":72},{"t":"09-15 01","v":71},{"t":"09-15 02","v":72},{"t":"09-15 03","v":71},{"t":"09-15 04","v":74},{"t":"09-15 05","v":77},{"t":"09-15 06","v":78},{"t":"09-15 07","v":80},{"t":"09-15 08","v":null},{"t":"09-15 09","v":76},{"t":"09-15 10","v":72},{"t":"09-15 11","v":80},{"t":"09-15 12","v":85},{"t":"09-15 13","v":85},{"t":"09-15 15","v":84},{"t":"09-15 16","v":83},{"t":"09-15 17","v":81},{"t":"09-15 18","v":80},{"t":"09-15 19","v":78},{"t":"09-15 20","v":76},{"t":"09-15 21","v":75},{"t":"09-15 22","v":76},{"t":"09-15 23","v":77},
{"t":"09-16 00","v":77},{"t":"09-16 01","v":78},{"t":"09-16 02","v":72},{"t":"09-16 03","v":67},{"t":"09-16 04","v":64},{"t":"09-16 06","v":55},{"t":"09-16 07","v":62},{"t":"09-16 08","v":63},{"t":"09-16 09","v":61},{"t":"09-16 10","v":68},{"t":"09-16 11","v":77},{"t":"09-16 12","v":75},{"t":"09-16 13","v":74},{"t":"09-16 14","v":69},{"t":"09-16 15","v":63},{"t":"09-16 16","v":56},{"t":"09-16 17","v":55},{"t":"09-16 18","v":48},{"t":"09-16 19","v":53},{"t":"09-16 20","v":57},{"t":"09-16 22","v":57},{"t":"09-16 23","v":56},
{"t":"09-17 00","v":52},{"t":"09-17 01","v":47},{"t":"09-17 02","v":41},{"t":"09-17 03","v":35},{"t":"09-17 04","v":35},{"t":"09-17 05","v":37},{"t":"09-17 06","v":35},{"t":"09-17 07","v":30},{"t":"09-17 08","v":25},{"t":"09-17 09","v":null},{"t":"09-17 11","v":36},{"t":"09-17 12","v":47},{"t":"09-17 13","v":48},{"t":"09-17 14","v":50},{"t":"09-17 15","v":55},{"t":"09-17 16","v":56},{"t":"09-17 17","v":55},{"t":"09-17 18","v":50},{"t":"09-17 19","v":41},{"t":"09-17 20","v":23},{"t":"09-17 21","v":11},{"t":"09-17 22","v":6},{"t":"09-17 23","v":4},
{"t":"09-18 00","v":3},{"t":"09-18 01","v":3},{"t":"09-18 02","v":4},{"t":"09-18 03","v":11},{"t":"09-18 04","v":22},{"t":"09-18 05","v":8},{"t":"09-18 06","v":3},{"t":"09-18 07","v":2},{"t":"09-18 08","v":11},{"t":"09-18 09","v":25},{"t":"09-18 10","v":33},{"t":"09-18 11","v":51},{"t":"09-18 12","v":67},{"t":"09-18 13","v":69},{"t":"09-18 14","v":72},{"t":"09-18 15","v":74},{"t":"09-18 17","v":69},{"t":"09-18 18","v":67},{"t":"09-18 19","v":55},{"t":"09-18 20","v":48},{"t":"09-18 21","v":52},{"t":"09-18 22","v":55},{"t":"09-18 23","v":47},
{"t":"09-19 00","v":60},{"t":"09-19 01","v":55},{"t":"09-19 02","v":46},{"t":"09-19 03","v":45},{"t":"09-19 04","v":44},{"t":"09-19 05","v":46},{"t":"09-19 06","v":45},{"t":"09-19 07","v":57},{"t":"09-19 08","v":69},{"t":"09-19 09","v":74},{"t":"09-19 10","v":78},{"t":"09-19 11","v":77},{"t":"09-19 12","v":81},{"t":"09-19 13","v":83},{"t":"09-19 15","v":85},{"t":"09-19 16","v":89},{"t":"09-19 17","v":89},{"t":"09-19 18","v":89},{"t":"09-19 19","v":81},{"t":"09-19 20","v":73},{"t":"09-19 21","v":64},{"t":"09-19 22","v":55},{"t":"09-19 23","v":47},
{"t":"09-20 00","v":56},{"t":"09-20 01","v":52},{"t":"09-20 02","v":45},{"t":"09-20 03","v":41},{"t":"09-20 04","v":42},{"t":"09-20 05","v":33},{"t":"09-20 06","v":25},{"t":"09-20 07","v":33},{"t":"09-20 08","v":66},{"t":"09-20 09","v":67},{"t":"09-20 11","v":69},{"t":"09-20 12","v":70},{"t":"09-20 13","v":73},{"t":"09-20 14","v":74},{"t":"09-20 15","v":75},{"t":"09-20 16","v":76},{"t":"09-20 17","v":74},{"t":"09-20 18","v":69},{"t":"09-20 19","v":60},{"t":"09-20 20","v":47},{"t":"09-20 21","v":35},{"t":"09-20 22","v":30},{"t":"09-20 23","v":28},
{"t":"09-21 00","v":27},{"t":"09-21 01","v":24},{"t":"09-21 02","v":19},{"t":"09-21 03","v":15},{"t":"09-21 04","v":13},{"t":"09-21 05","v":8},{"t":"09-21 06","v":4},{"t":"09-21 07","v":3},{"t":"09-21 08","v":20},{"t":"09-21 09","v":50},{"t":"09-21 10","v":null},{"t":"09-21 12","v":85},{"t":"09-21 13","v":94},{"t":"09-21 14","v":95},{"t":"09-21 15","v":89},{"t":"09-21 17","v":86},{"t":"09-21 18","v":78},{"t":"09-21 19","v":67},{"t":"09-21 20","v":55},{"t":"09-21 21","v":39},{"t":"09-21 22","v":24},{"t":"09-21 23","v":18},
{"t":"09-22 00","v":12},{"t":"09-22 01","v":11},{"t":"09-22 02","v":11},{"t":"09-22 03","v":8},{"t":"09-22 04","v":7},{"t":"09-22 05","v":4},{"t":"09-22 06","v":3},{"t":"09-22 07","v":6},{"t":"09-22 08","v":20},{"t":"09-22 09","v":50},{"t":"09-22 10","v":57},{"t":"09-22 11","v":null},{"t":"09-22 12","v":96},{"t":"09-22 13","v":105},{"t":"09-22 14","v":110},{"t":"09-22 15","v":113},{"t":"09-22 16","v":111},{"t":"09-22 17","v":106},{"t":"09-22 18","v":94},{"t":"09-22 19","v":75},{"t":"09-22 21","v":57},{"t":"09-22 22","v":39},{"t":"09-22 23","v":23},
{"t":"09-23 00","v":19},{"t":"09-23 01","v":14},{"t":"09-23 02","v":11},{"t":"09-23 03","v":8},{"t":"09-23 04","v":6},{"t":"09-23 05","v":4},{"t":"09-23 06","v":3},{"t":"09-23 07","v":3},{"t":"09-23 08","v":20},{"t":"09-23 09","v":45},{"t":"09-23 10","v":64},{"t":"09-23 11","v":77},{"t":"09-23 12","v":98},{"t":"09-23 13","v":97},{"t":"09-23 14","v":95},{"t":"09-23 16","v":100},{"t":"09-23 17","v":100},{"t":"09-23 18","v":94},{"t":"09-23 19","v":81},{"t":"09-23 20","v":67},{"t":"09-23 21","v":47},{"t":"09-23 22","v":25},{"t":"09-23 23","v":20},
{"t":"09-24 00","v":18},{"t":"09-24 01","v":17},{"t":"09-24 02","v":15},{"t":"09-24 03","v":13},{"t":"09-24 04","v":11},{"t":"09-24 05","v":6},{"t":"09-24 06","v":null},{"t":"09-24 10","v":45},{"t":"09-24 11","v":45},{"t":"09-24 12","v":55},{"t":"09-24 13","v":69},{"t":"09-24 14","v":84},{"t":"09-24 15","v":89},{"t":"09-24 16","v":80},{"t":"09-24 17","v":79},{"t":"09-24 18","v":77},{"t":"09-24 19","v":75},{"t":"09-24 20","v":69},{"t":"09-24 21","v":69},{"t":"09-24 22","v":63},{"t":"09-24 23","v":55},
{"t":"09-25 00","v":45},{"t":"09-25 02","v":33},{"t":"09-25 03","v":24},{"t":"09-25 04","v":28},{"t":"09-25 05","v":23},{"t":"09-25 06","v":33},{"t":"09-25 07","v":11},{"t":"09-25 08","v":57},{"t":"09-25 10","v":72},{"t":"09-25 11","v":81},{"t":"09-25 12","v":86},{"t":"09-25 13","v":91},{"t":"09-25 14","v":96},{"t":"09-25 15","v":96},{"t":"09-25 16","v":91},{"t":"09-25 17","v":86},{"t":"09-25 18","v":81},{"t":"09-25 19","v":77},{"t":"09-25 20","v":80},{"t":"09-25 21","v":85},{"t":"09-25 22","v":84},{"t":"09-25 23","v":81},
{"t":"09-26 00","v":75},{"t":"09-26 01","v":75},{"t":"09-26 02","v":74},{"t":"09-26 03","v":69},{"t":"09-26 04","v":66},{"t":"09-26 05","v":64},{"t":"09-26 06","v":65},{"t":"09-26 07","v":null},{"t":"09-26 08","v":66},{"t":"09-26 09","v":86},{"t":"09-26 10","v":89},{"t":"09-26 11","v":89},{"t":"09-26 13","v":90},{"t":"09-26 14","v":88},{"t":"09-26 15","v":86},{"t":"09-26 16","v":89},{"t":"09-26 17","v":86},{"t":"09-26 18","v":79},{"t":"09-26 19","v":80},{"t":"09-26 20","v":86},{"t":"09-26 21","v":88},{"t":"09-26 22","v":81},{"t":"09-26 23","v":74},
{"t":"09-27 00","v":64},{"t":"09-27 01","v":57},{"t":"09-27 03","v":50},{"t":"09-27 04","v":39},{"t":"09-27 05","v":36},{"t":"09-27 06","v":29},{"t":"09-27 07","v":31},{"t":"09-27 08","v":null},{"t":"09-27 09","v":69},{"t":"09-27 10","v":67},{"t":"09-27 11","v":58},{"t":"09-27 12","v":56},{"t":"09-27 13","v":56},{"t":"09-27 14","v":53},{"t":"09-27 15","v":47},{"t":"09-27 16","v":40},{"t":"09-27 17","v":29},{"t":"09-27 18","v":23},{"t":"09-27 19","v":24},{"t":"09-27 20","v":33},{"t":"09-27 22","v":45},{"t":"09-27 23","v":37},
{"t":"09-28 00","v":28},{"t":"09-28 01","v":20},{"t":"09-28 02","v":18},{"t":"09-28 03","v":15},{"t":"09-28 04","v":13},{"t":"09-28 05","v":25},{"t":"09-28 06","v":41},{"t":"09-28 07","v":44},{"t":"09-28 08","v":46},{"t":"09-28 09","v":47},{"t":"09-28 10","v":50},{"t":"09-28 11","v":55},{"t":"09-28 12","v":51},{"t":"09-28 14","v":55},{"t":"09-28 15","v":41},{"t":"09-28 16","v":60},{"t":"09-28 17","v":73},{"t":"09-28 18","v":64},{"t":"09-28 19","v":57},{"t":"09-28 20","v":47},{"t":"09-28 21","v":42},{"t":"09-28 22","v":34},{"t":"09-28 23","v":30},
{"t":"09-29 00","v":29},{"t":"09-29 01","v":28},{"t":"09-29 02","v":25},{"t":"09-29 03","v":22},{"t":"09-29 04","v":14},{"t":"09-29 05","v":18},{"t":"09-29 06","v":17},{"t":"09-29 07","v":null},{"t":"09-29 10","v":41},{"t":"09-29 11","v":67},{"t":"09-29 12","v":70},{"t":"09-29 13","v":73},{"t":"09-29 14","v":77},{"t":"09-29 15","v":78},{"t":"09-29 16","v":79},{"t":"09-29 17","v":67},{"t":"09-29 18","v":60},{"t":"09-29 19","v":55},{"t":"09-29 20","v":41},{"t":"09-29 21","v":28},{"t":"09-29 22","v":23},{"t":"09-29 23","v":18},
{"t":"09-30 00","v":13},{"t":"09-30 02","v":8},{"t":"09-30 03","v":9},{"t":"09-30 04","v":7},{"t":"09-30 05","v":4},{"t":"09-30 06","v":4},{"t":"09-30 07","v":3},{"t":"09-30 08","v":9},{"t":"09-30 09","v":null},{"t":"09-30 10","v":39},{"t":"09-30 12","v":72},{"t":"09-30 13","v":72},{"t":"09-30 14","v":72},{"t":"09-30 15","v":72},{"t":"09-30 16","v":70},{"t":"09-30 17","v":69},{"t":"09-30 18","v":57},{"t":"09-30 19","v":45},{"t":"09-30 20","v":33},{"t":"09-30 21","v":23},{"t":"09-30 22","v":15},{"t":"09-30 23","v":11},{"t":"10-01 00","v":8}
]},
"mark":{"type":"line","strokeWidth":2,"invalid":"break-paths-filter-domains"},
"encoding":{"color":{"datum":"Mobilna postaja ŠOŠTANJ","type":"nominal"}}
},
{"data":{"format":{"parse":{"t":"utc:'%m-%d %H'","t2":"utc:'%m-%d %H'"}},"values":[{"t":"09-01 10","t2":"10-01 04","v":180}]},
"mark":{"type":"rule","color":"#ff0000","strokeWidth":4},
"encoding":{"x2":{"field":"t2"}}
}
],
"resolve":{"axis":{"y":"independent"}}
}
